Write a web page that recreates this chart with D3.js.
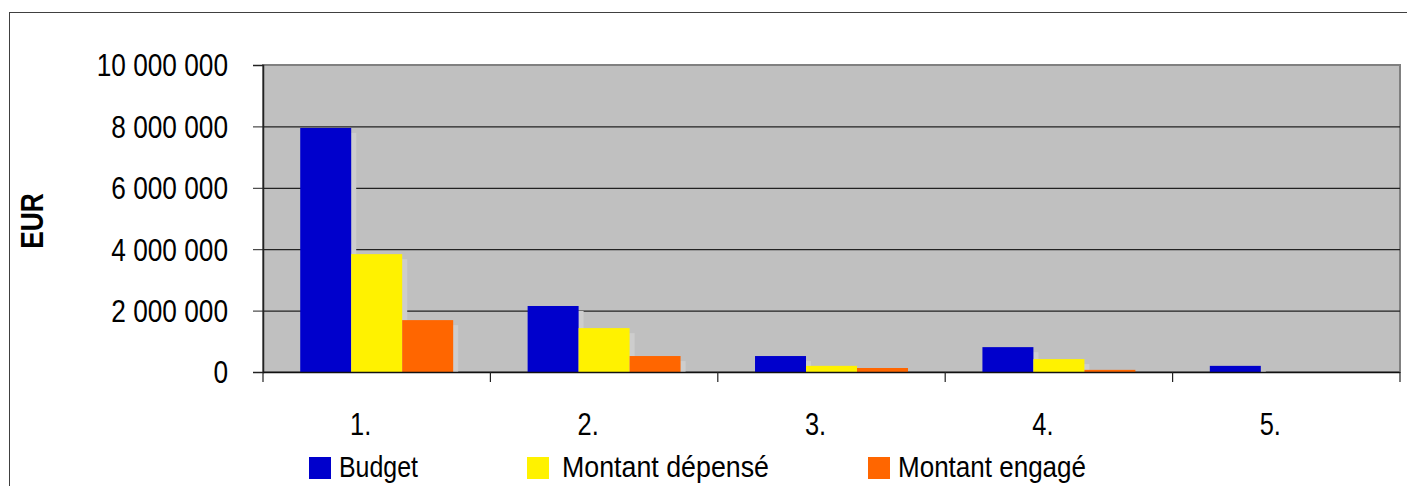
<!DOCTYPE html>
<html>
<head>
    <meta charset="utf-8">
    <script src="https://d3js.org/d3.v7.min.js"></script>
    <style>
        body { margin: 0; background: #fff; }
        text { font-family: "Liberation Sans", Arial, sans-serif; fill: #000; }
    </style>
</head>
<body>
    <svg width="1407" height="486"></svg>

    <script>
        // Categories and series (in EUR)
        const categories = ["1.", "2.", "3.", "4.", "5."];
        const seriesNames = ["Budget", "Montant dépensé", "Montant engagé"];
        const budget = [7950000, 2150000, 520000, 810000, 200000];
        const depense = [3840000, 1430000, 200000, 420000, 0];
        const engage = [1690000, 520000, 130000, 70000, 0];
        const yTicks = [0, 2000000, 4000000, 6000000, 8000000, 10000000];
        const colors = ["#0000cc", "#fff200", "#ff6600"];

        const series = [budget, depense, engage];
        const data = [];
        categories.forEach((c, i) => {
            series.forEach((s, j) => data.push({ cat: c, key: seriesNames[j], value: s[i], idx: j }));
        });

        const svg = d3.select("svg");
        const plot = { left: 263, right: 1400, top: 65, bottom: 372 };
        const narrow = 0.82; // fake "Arial Narrow" by squeezing Liberation Sans

        // outer frame
        svg.append("rect")
            .attr("x", 9.5).attr("y", 12.5)
            .attr("width", 1420).attr("height", 500)
            .attr("fill", "#fff")
            .attr("stroke", "#404040");

        const x = d3.scaleBand()
            .domain(categories)
            .range([plot.left, plot.right])
            .paddingInner(0).paddingOuter(0);

        const xInner = d3.scaleBand()
            .domain(seriesNames)
            .range([0, x.bandwidth()])
            .paddingInner(0)
            .paddingOuter(0.73);

        const y = d3.scaleLinear()
            .domain([0, 10000000])
            .range([plot.bottom, plot.top]);

        // plot area
        svg.append("rect")
            .attr("x", plot.left).attr("y", plot.top)
            .attr("width", plot.right - plot.left)
            .attr("height", plot.bottom - plot.top)
            .attr("fill", "#c0c0c0")
            .attr("stroke", "#808080")
            .attr("stroke-width", 2);

        // gridlines
        svg.append("g")
            .selectAll("line")
            .data(yTicks.slice(1, -1))
            .enter()
            .append("line")
            .attr("x1", plot.left).attr("x2", plot.right)
            .attr("y1", d => y(d) + 0.5).attr("y2", d => y(d) + 0.5)
            .attr("stroke", "#222")
            .attr("stroke-width", 1.2);

        // shadows first, then bars
        svg.append("g")
            .selectAll("rect")
            .data(data.filter(d => d.value > 0))
            .enter()
            .append("rect")
            .attr("x", d => x(d.cat) + xInner(d.key) + 5)
            .attr("y", d => y(d.value) + 5)
            .attr("width", xInner.bandwidth())
            .attr("height", d => Math.max(0, plot.bottom - y(d.value) - 5))
            .attr("fill", "#cdcdcd");

        svg.append("g")
            .selectAll("rect")
            .data(data.filter(d => d.value > 0))
            .enter()
            .append("rect")
            .attr("x", d => x(d.cat) + xInner(d.key))
            .attr("y", d => y(d.value))
            .attr("width", xInner.bandwidth())
            .attr("height", d => plot.bottom - y(d.value))
            .attr("fill", d => colors[d.idx]);

        // y axis
        const yAxis = d3.axisLeft(y)
            .tickValues(yTicks)
            .tickSize(10)
            .tickPadding(25)
            .tickFormat(d => d3.format(",")(d).replace(/,/g, " "));

        const gy = svg.append("g")
            .attr("transform", `translate(${plot.left},0)`)
            .call(yAxis);
        gy.select(".domain").attr("stroke", "#222").attr("stroke-width", 1.5);
        gy.selectAll(".tick line").attr("stroke", "#222");
        gy.selectAll(".tick text")
            .attr("font-size", 32)
            .attr("font-family", null)
            .attr("x", -35 / narrow)
            .attr("dy", "0.34em")
            .attr("transform", `scale(${narrow},1)`);

        // x axis baseline and category ticks
        svg.append("line")
            .attr("x1", plot.left).attr("x2", plot.right)
            .attr("y1", plot.bottom + 0.5).attr("y2", plot.bottom + 0.5)
            .attr("stroke", "#111").attr("stroke-width", 1.5);

        svg.append("g")
            .selectAll("line")
            .data(categories.concat(["end"]))
            .enter()
            .append("line")
            .attr("x1", (d, i) => i < categories.length ? x(d) : plot.right)
            .attr("x2", (d, i) => i < categories.length ? x(d) : plot.right)
            .attr("y1", plot.bottom)
            .attr("y2", plot.bottom + 10)
            .attr("stroke", "#222")
            .attr("stroke-width", 1.2);

        svg.append("g")
            .selectAll("text")
            .data(categories)
            .enter()
            .append("text")
            .attr("transform", d => `translate(${x(d) + x.bandwidth() / 2 - 16},435) scale(${narrow},1)`)
            .attr("text-anchor", "middle")
            .attr("font-size", 31)
            .text(d => d);

        // y axis title
        svg.append("text")
            .attr("transform", `translate(43,221) rotate(-90) scale(0.85,1)`)
            .attr("text-anchor", "middle")
            .attr("font-size", 31)
            .attr("font-weight", "bold")
            .text("EUR");

        // legend
        const legendX = [309, 527, 868];
        const legendTextW = [79, 207, 188];
        const legend = svg.append("g")
            .selectAll("g")
            .data(seriesNames)
            .enter()
            .append("g")
            .attr("transform", (d, i) => `translate(${legendX[i]},457)`);

        legend.append("rect")
            .attr("width", 22).attr("height", 22)
            .attr("fill", (d, i) => colors[i]);

        legend.append("text")
            .attr("x", (d, i) => i === 1 ? 35 : 30)
            .attr("y", 20)
            .attr("font-size", 30)
            .attr("textLength", (d, i) => legendTextW[i])
            .attr("lengthAdjust", "spacingAndGlyphs")
            .text(d => d);
    </script>
</body>
</html>
